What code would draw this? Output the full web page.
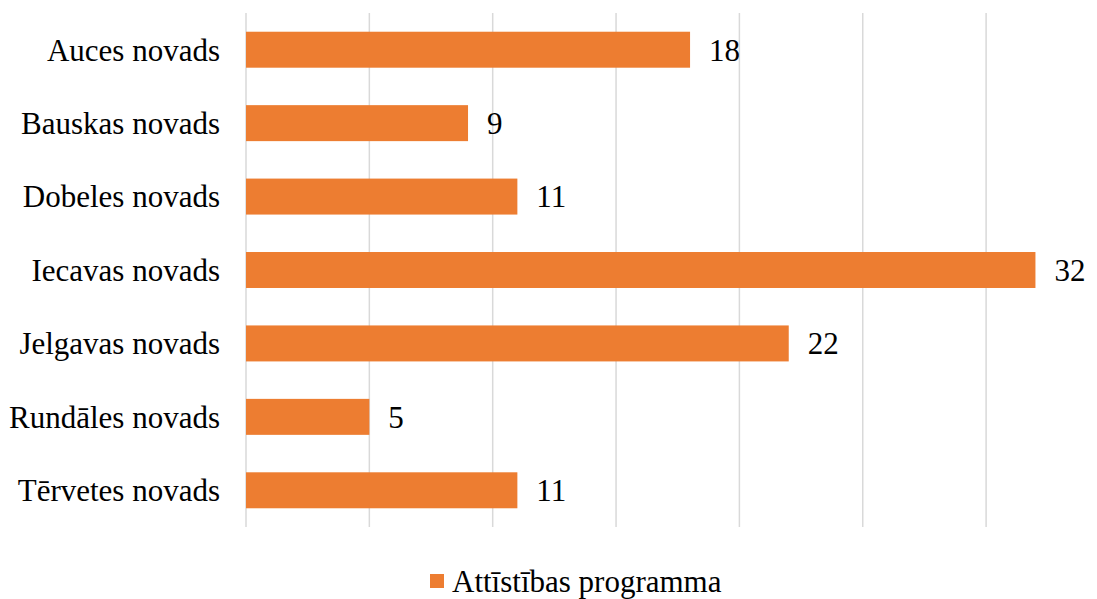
<!DOCTYPE html>
<html>
    <head>
        <meta charset="utf-8" />
        <script src="https://d3js.org/d3.v7.min.js"></script>
        <style>
            body {
                margin: 0;
                background-color: white;
            }
        </style>
    </head>
    <body>
        <svg></svg>
        <script>
            const categories = [
                'Auces novads',
                'Bauskas novads',
                'Dobeles novads',
                'Iecavas novads',
                'Jelgavas novads',
                'Rundāles novads',
                'Tērvetes novads',
            ]
            const values = [18, 9, 11, 32, 22, 5, 11]
            const gridTicks = [0, 5, 10, 15, 20, 25, 30]
            const seriesName = 'Attīstības programma'

            const width = 1097
            const height = 599
            const plotLeft = 246
            const plotTop = 13
            const plotBottom = 527
            const barColor = '#ED7D31'
            const fontFamily = '"Liberation Serif", "DejaVu Serif", serif'
            const fontSize = '31px'

            const svg = d3
                .select('svg')
                .attr('width', width)
                .attr('height', height)
                .style('font-family', fontFamily)

            const xScale = d3
                .scaleLinear()
                .domain([0, 35])
                .range([plotLeft, plotLeft + 35 * 24.67])

            const yScale = d3
                .scaleBand()
                .domain(categories)
                .range([plotTop, plotBottom])
                .paddingInner(0.51)
                .paddingOuter(0.255)

            // gridlines
            svg.selectAll('line.grid')
                .data(gridTicks)
                .enter()
                .append('line')
                .attr('class', 'grid')
                .attr('x1', (d) => xScale(d))
                .attr('x2', (d) => xScale(d))
                .attr('y1', plotTop)
                .attr('y2', plotBottom)
                .style('stroke', '#d9d9d9')
                .style('stroke-width', '1.5px')

            const data = categories.map((c, i) => ({ label: c, value: values[i] }))

            svg.selectAll('rect.bar')
                .data(data)
                .enter()
                .append('rect')
                .attr('class', 'bar')
                .attr('x', xScale(0))
                .attr('y', (d) => yScale(d.label))
                .attr('width', (d) => xScale(d.value) - xScale(0))
                .attr('height', yScale.bandwidth())
                .style('fill', barColor)

            // category labels
            svg.selectAll('text.cat')
                .data(data)
                .enter()
                .append('text')
                .attr('class', 'cat')
                .attr('x', 220)
                .attr('y', (d) => yScale(d.label) + yScale.bandwidth() / 2)
                .attr('dy', '0.35em')
                .attr('text-anchor', 'end')
                .style('font-size', fontSize)
                .text((d) => d.label)

            // value labels
            svg.selectAll('text.val')
                .data(data)
                .enter()
                .append('text')
                .attr('class', 'val')
                .attr('x', (d) => xScale(d.value) + 19)
                .attr('y', (d) => yScale(d.label) + yScale.bandwidth() / 2)
                .attr('dy', '0.35em')
                .style('font-size', fontSize)
                .text((d) => d.value)

            // legend
            const legend = svg.append('g').attr('transform', 'translate(430, 574)')
            legend
                .append('rect')
                .attr('width', 14)
                .attr('height', 14)
                .style('fill', barColor)
            legend
                .append('text')
                .attr('x', 22)
                .attr('y', 7)
                .attr('dy', '0.35em')
                .style('font-size', fontSize)
                .text(seriesName)
        </script>
    </body>
</html>
